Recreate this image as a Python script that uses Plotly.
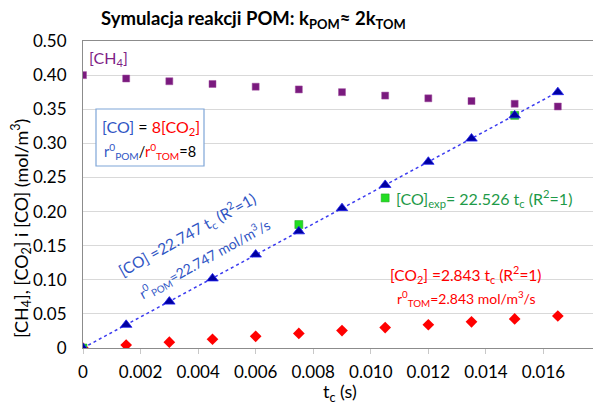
import plotly.graph_objects as go

# ---- data ----
t_c = [0, 0.0015, 0.003, 0.0045, 0.006, 0.0075, 0.009, 0.0105, 0.012, 0.0135, 0.015, 0.0165]
ch4 = [0.400, 0.395, 0.391, 0.387, 0.383, 0.379, 0.375, 0.370, 0.366, 0.362, 0.358, 0.354]
co = [0.0, 0.034, 0.068, 0.102, 0.137, 0.171, 0.205, 0.239, 0.273, 0.307, 0.341, 0.375]
co2 = [0.0, 0.0043, 0.0085, 0.0128, 0.0171, 0.0213, 0.0256, 0.0299, 0.0341, 0.0384, 0.0426, 0.0469]
t_exp = [0, 0.0075, 0.0105, 0.015]
co_exp = [0.0, 0.181, 0.220, 0.341]
k_co = 22.747
trend_t = [0, 0.0165]

x_ticks = [0, 0.002, 0.004, 0.006, 0.008, 0.010, 0.012, 0.014, 0.016]
x_ticktext = ["0", "0.002", "0.004", "0.006", "0.008", "0.010", "0.012", "0.014", "0.016"]
y_ticks = [0, 0.05, 0.10, 0.15, 0.20, 0.25, 0.30, 0.35, 0.40, 0.45]
y_ticktext = ["0", "0.05", "0.10", "0.15", "0.20", "0.25", "0.30", "0.35", "0.40", "0.50"]

OFF = 8  # page body margin
W, H = 601 - OFF, 405 - OFF
# plot area in reference pixels: left 83, top 41, bottom 348, right 601
L, T = 83 - OFF, 41 - OFF
R, B = 0, 405 - 348
FONT = "Lato"
BLUE = "#2F55C4"
RED = "#FF0000"
GREEN = "#1E9A48"
PURPLE = "#7F1F86"

def px(x):
    return (x - 83) / (601 - 83)

def py(y):
    return (348 - y) / (348 - 41)

fig = go.Figure()
fig.add_trace(go.Scatter(x=trend_t, y=[k_co * t for t in trend_t], mode="lines",
                         line=dict(color="#3B3BF0", width=1.5, dash="dot"), hoverinfo="skip"))
fig.add_trace(go.Scatter(x=t_c, y=ch4, mode="markers",
                         marker=dict(symbol="square", size=7, color="#7A1A7E", line=dict(color="#A050A0", width=0.5))))
fig.add_trace(go.Scatter(x=t_c, y=co2, mode="markers",
                         marker=dict(symbol="diamond", size=9, color="#FF0000", line=dict(width=0))))
fig.add_trace(go.Scatter(x=t_exp, y=co_exp, mode="markers",
                         marker=dict(symbol="square", size=8, color="#22DD22", line=dict(color="#20A020", width=0.5))))
fig.add_trace(go.Scatter(x=t_c, y=co, mode="markers",
                         marker=dict(symbol="triangle-up", size=10, color="#0000A0", line=dict(color="#2020F0", width=0.8))))

fig.add_shape(type="rect", xref="paper", yref="paper",
              x0=px(96), x1=px(204), y0=py(166), y1=py(109),
              line=dict(color="#7FA6D8", width=1.2), fillcolor="white", layer="above")

def ann(text, x, y, size, color="black", xanchor="left", angle=0):
    fig.add_annotation(text=text, x=px(x), y=py(y), xref="paper", yref="paper",
                       xanchor=xanchor, yanchor="middle", showarrow=False, textangle=angle,
                       font=dict(family=FONT, size=size, color=color))

ann("[CH<sub>4</sub>]", 87, 58, 16, PURPLE)
ann(f"<span style='color:{BLUE}'>[CO]</span> = <span style='color:{RED}'>8[CO<sub>2</sub>]</span>", 100, 127, 16)
ann(f"<span style='color:{BLUE}'>r<sup>0</sup><sub>POM</sub></span>/<span style='color:{RED}'>r<sup>0</sup><sub>TOM</sub></span>=8", 102, 151, 14.5)
ann("[CO] =22.747 t<sub>c</sub> (R<sup>2</sup>=1)", 187, 234, 15.5, BLUE, "center", -29)
ann("r<sup>0</sup><sub>POM</sub>=22.747 mol/m<sup>3</sup>/s", 204, 259, 14, BLUE, "center", -29)
ann("[CO]<sub>exp</sub>= 22.526 t<sub>c</sub> (R<sup>2</sup>=1)", 394, 198, 16, GREEN)
ann("[CO<sub>2</sub>] =2.843 t<sub>c</sub> (R<sup>2</sup>=1)", 388, 274, 15.5, RED)
ann("r<sup>0</sup><sub>TOM</sub>=2.843 mol/m<sup>3</sup>/s", 395, 298, 14, RED)
ann("[CH<sub>4</sub>], [CO<sub>2</sub>] i [CO] (mol/m<sup>3</sup>)", 21, 229, 18, "black", "center", -90)
ann("t<sub>c</sub> (s)", 340, 392, 18, "black", "center")
ann("<b>Symulacja reakcji POM: k<sub>POM</sub>≈ 2k<sub>TOM</sub></b>", 253, 20, 18.5, "black", "center")

fig.update_layout(
    width=W, height=H, margin=dict(l=L, r=R, t=T, b=B),
    paper_bgcolor="white", plot_bgcolor="white", showlegend=False,
    font=dict(family=FONT, size=17, color="black"),
)
fig.update_xaxes(range=[0, 0.018], tickvals=x_ticks, ticktext=x_ticktext, showgrid=False,
                 zeroline=False, showline=True, linecolor="#8C8C8C", linewidth=1.2, mirror=True,
                 ticks="outside", ticklen=5, tickcolor="#C8C8C8", ticklabelstandoff=3,
                 tickfont=dict(size=17), automargin=False)
fig.update_yaxes(range=[0, 0.45], tickvals=y_ticks, ticktext=y_ticktext, showgrid=True,
                 gridcolor="#D9D9D9", gridwidth=1, zeroline=False, showline=True,
                 linecolor="#8C8C8C", linewidth=1.2, ticks="", ticklabelstandoff=12,
                 tickfont=dict(size=17), automargin=False)

fig.write_html("out.html")
